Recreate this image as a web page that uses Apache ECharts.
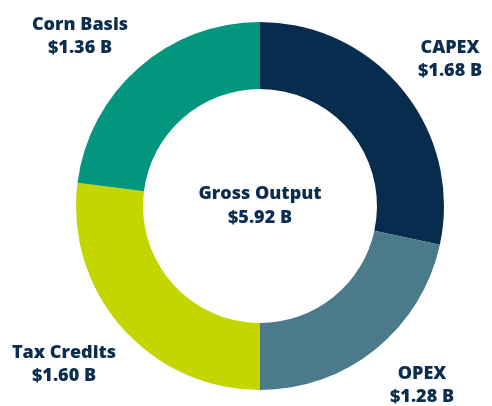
<!DOCTYPE html>
<html>
<head>
<meta charset="utf-8">
<script src="https://cdn.jsdelivr.net/npm/echarts@6/dist/echarts.min.js"></script>
<style>
  html, body { margin: 0; padding: 0; background: #fff; }
  #chart { width: 492px; height: 406px; }
</style>
</head>
<body>
<div id="chart"></div>
<script>
// slices, clockwise from 12 o'clock
const categories = ['CAPEX', 'OPEX', 'Tax Credits', 'Corn Basis']
const values = [1.68, 1.28, 1.60, 1.36]
const colors = ['#082c4e', '#4b7b8b', '#c3d600', '#02967f']
const totalLabel = 'Gross Output'
const totalValue = 5.92

// where each slice label sits (px, centre of the two-line block)
const labelPos = [[450, 59], [422, 385], [64, 364], [80, 36]]

const textColor = '#0b2d4f'
const font = '"Open Sans", Lato, sans-serif'

const chart = echarts.init(document.getElementById('chart'))

chart.setOption({
  animation: false,
  title: {
    text: totalLabel + '\n$' + totalValue.toFixed(2) + ' B',
    left: 260,
    top: 182,
    padding: 0,
    textAlign: 'center',
    textStyle: {
      color: textColor,
      fontFamily: font,
      fontWeight: 800,
      fontSize: 18,
      lineHeight: 24,
    },
  },
  series: [
    {
      type: 'pie',
      center: [260, 206],
      radius: [117, 184],
      startAngle: 90,
      clockwise: true,
      silent: true,
      data: categories.map((name, i) => ({
        name: name,
        value: values[i],
        itemStyle: { color: colors[i] },
      })),
      label: {
        show: true,
        position: 'outside',
        formatter: (p) => p.name + '\n$' + p.value.toFixed(2) + ' B',
        color: textColor,
        fontFamily: font,
        fontWeight: 800,
        fontSize: 18,
        lineHeight: 23,
        align: 'center',
        overflow: 'none',
        edgeDistance: 0,
      },
      labelLine: { show: false },
      labelLayout: (params) => ({
        x: labelPos[params.dataIndex][0],
        y: labelPos[params.dataIndex][1],
        align: 'center',
        verticalAlign: 'middle',
        width: 160,
      }),
    },
  ],
})
</script>
</body>
</html>
